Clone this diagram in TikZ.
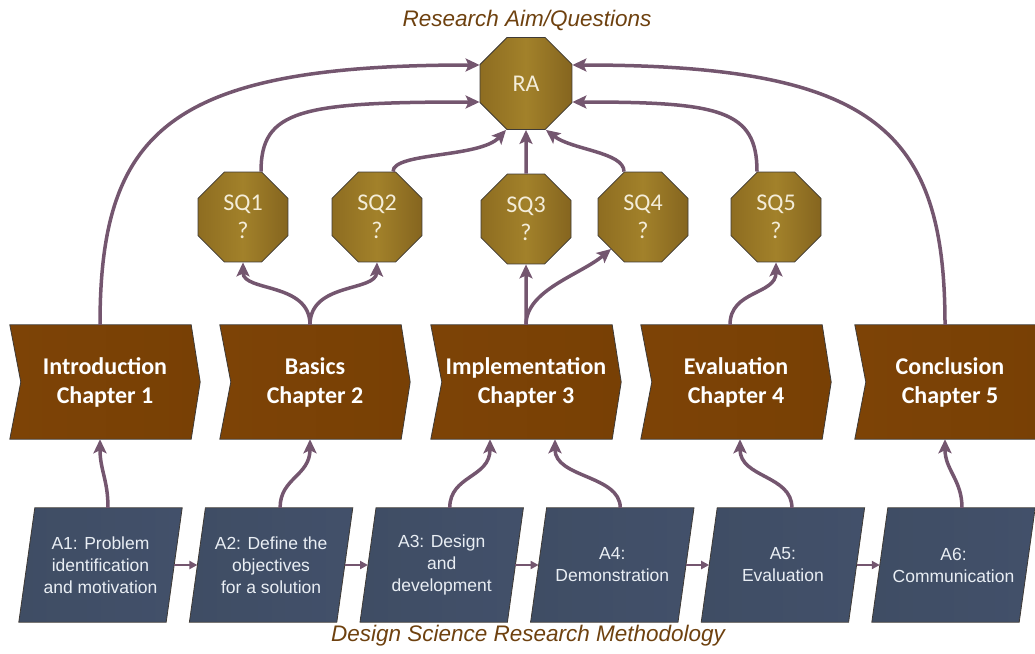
\documentclass[tikz,border=0pt]{standalone}
\usepackage{fontspec}
\newfontfamily\chapfont{Carlito}
\newfontfamily\boxfont{Liberation Sans}
\newfontfamily\capfont{Liberation Sans}
\usetikzlibrary{shapes.geometric,arrows.meta,calc,backgrounds}

\definecolor{link}{HTML}{74566F}
\definecolor{chevL}{HTML}{7D4306}
\definecolor{chevR}{HTML}{784005}
\definecolor{edge}{HTML}{3E3A36}
\definecolor{goldA}{HTML}{8E6D21}
\definecolor{goldB}{HTML}{A2812A}
\definecolor{goldC}{HTML}{85651F}
\definecolor{slateA}{HTML}{3F4D64}
\definecolor{slateB}{HTML}{4F6482}
\definecolor{slateC}{HTML}{42506A}
\definecolor{captioncol}{HTML}{6E410F}
\definecolor{octtext}{HTML}{F4EDD9}
\definecolor{boxtext}{HTML}{E9EEF4}

\begin{document}
\begin{tikzpicture}[x=1pt,y=-1pt,
  chapter/.style={rectangle, minimum width=190pt, minimum height=114pt, inner sep=0pt,
    align=center, text=white, font=\chapfont\bfseries\fontsize{24}{29}\selectfont},
  question/.style={regular polygon, regular polygon sides=8, minimum size=97.4pt, inner sep=0pt,
    draw=edge, line width=0.8pt, left color=goldA, right color=goldC, middle color=goldB,
    align=center, text=octtext, font=\chapfont\fontsize{24}{28}\selectfont},
  activity/.style={rectangle, minimum width=163pt, minimum height=114pt, inner sep=0pt,
    align=center, text=boxtext, font=\boxfont\fontsize{17.5}{22}\selectfont},
  chevronfill/.style={draw=edge, line width=0.8pt, left color=chevL, right color=chevR},
  slatefill/.style={draw=edge, line width=0.8pt, left color=slateA, middle color=slateB, right color=slateC},
  flow/.style={draw=link, line width=3.5pt, -{Stealth[length=14pt,width=13pt,inset=3pt]}},
  seqarrow/.style={draw=link, line width=2pt, -{Triangle[length=8pt,width=8pt]}},
  captiontext/.style={text=captioncol, font=\capfont\itshape\fontsize{22.5}{27}\selectfont}
]
\useasboundingbox (0,0) rectangle (1035,653);

% research aim and sub-questions
\node[question, minimum size=99.6pt] (ra) at (526,83.5) {RA};
\node[question] (sq1) at (243,217) {SQ1\\?};
\node[question] (sq2) at (377,217) {SQ2\\?};
\node[question] (sq3) at (526,219) {SQ3\\?};
\node[question] (sq4) at (643,217) {SQ4\\?};
\node[question] (sq5) at (776,217) {SQ5\\?};

% thesis chapters
\node[chapter] (c1) at (105,382) {Introduction\\Chapter 1};
\node[chapter] (c2) at (315,382) {Basics\\Chapter 2};
\node[chapter] (c3) at (526,382) {Implementation\\Chapter 3};
\node[chapter] (c4) at (736,382) {Evaluation\\Chapter 4};
\node[chapter] (c5) at (950,382) {Conclusion\\Chapter 5};

% DSRM activities
\node[activity] (a1) at (100.5,565) {A1: Problem\\identification\\and motivation};
\node[activity] (a2) at (271.1,565) {A2: Define the\\objectives\\for a solution};
\node[activity] (a3) at (441.7,565) {A3: Design\\and\\development};
\node[activity] (a4) at (612.3,565) {A4:\\Demonstration};
\node[activity] (a5) at (782.9,565) {A5:\\Evaluation};
\node[activity] (a6) at (953.5,565) {A6:\\Communication};

% captions
\node[captiontext] (aimtitle) at (527,20) {Research Aim/Questions};
\node[captiontext] (dsrmtitle) at (528,636) {Design Science Research Methodology};

% chevron and parallelogram bodies behind the labels
\begin{scope}[on background layer]
  \clip (0,0) rectangle (1035,653);
  \foreach \n in {c1,c2,c3,c4,c5}
    \path[chevronfill] (\n.north west) -- ($(\n.north east)+(-9,0)$) -- (\n.east)
      -- ($(\n.south east)+(-9,0)$) -- (\n.south west) -- ($(\n.west)+(11,0)$) -- cycle;
  \foreach \n in {a1,a2,a3,a4,a5,a6}
    \path[slatefill] ($(\n.north west)+(16,0)$) -- (\n.north east)
      -- ($(\n.south east)+(-16,0)$) -- (\n.south west) -- cycle;
\end{scope}

% links into the research aim
\draw[flow] ($(c1.north)+(-5,0)$) .. controls (100,130) and (170,65) .. ($(ra.west)+(0,-18.5)$);
\draw[flow] ($(c5.north)+(-5,0)$) .. controls (945,130) and (875,65) .. ($(ra.east)+(0,-18.5)$);
\draw[flow] ($(sq1.north)+(18,0)$) .. controls (261,110) and (300,102) .. ($(ra.west)+(0,18.5)$);
\draw[flow] ($(sq5.north)+(-19,0)$) .. controls (757,110) and (720,102) .. ($(ra.east)+(0,18.5)$);
\draw[flow] ($(sq2.north)+(16,0)$) .. controls (393,152) and (480,158) .. ($(ra.south)+(-20,0)$);
\draw[flow] (sq3.north) -- (ra.south);
\draw[flow] ($(sq4.north)+(-19,0)$) .. controls (624,152) and (572,150) .. ($(ra.south)+(20,0)$);

% chapters answering the sub-questions
\draw[flow] ($(c2.north)+(-5,0)$) .. controls (310,282) and (243,292) .. (sq1.south);
\draw[flow] ($(c2.north)+(-5,0)$) .. controls (310,282) and (376,292) .. (sq2.south);
\draw[flow] (c3.north) -- (sq3.south);
\draw[flow] (c3.north) .. controls (526,290) and (580,275) .. ($(sq4.center)+(-32,32)$);
\draw[flow] ($(c4.north)+(-6,0)$) .. controls (730,290) and (776,295) .. (sq5.south);

% activities feeding the chapters
\draw[flow] ($(a1.north)+(7.5,0)$) .. controls (108,480) and (100,470) .. ($(c1.south)+(-5,0)$);
\draw[flow] ($(a2.north)+(9,0)$) .. controls (280,478) and (310,476) .. ($(c2.south)+(-5,0)$);
\draw[flow] ($(a3.north)+(8,0)$) .. controls (450,475) and (490,478) .. ($(c3.south)+(-36,0)$);
\draw[flow] ($(a4.north)+(8,0)$) .. controls (620,475) and (555,478) .. ($(c3.south)+(29,0)$);
\draw[flow] ($(a5.north)+(9,0)$) .. controls (792,475) and (740,478) .. ($(c4.south)+(4,0)$);
\draw[flow] ($(a6.north)+(8.5,0)$) .. controls (962,480) and (945,470) .. ($(c5.south)+(-5,0)$);

% sequence of DSRM activities
\foreach \i/\j in {a1/a2,a2/a3,a3/a4,a4/a5,a5/a6}
  \draw[seqarrow] ($(\i.east)+(-8,0)$) -- ($(\j.west)+(8,0)$);
\end{tikzpicture}
\end{document}
